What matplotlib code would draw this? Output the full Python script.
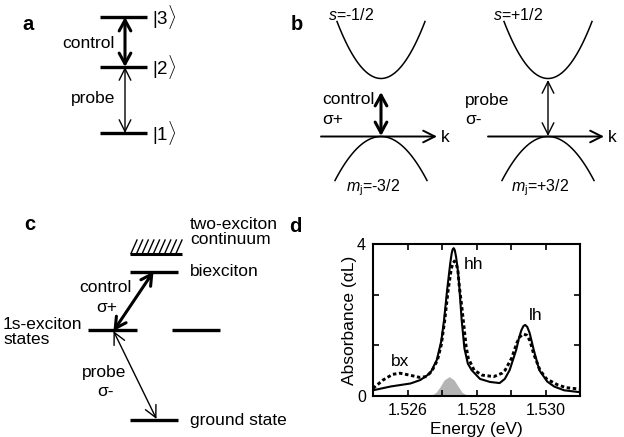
import numpy as np
import matplotlib.pyplot as plt

plt.rcParams['font.family'] = ['Liberation Sans', 'DejaVu Sans']
plt.rcParams['mathtext.fontset'] = 'custom'
plt.rcParams['mathtext.rm'] = 'Liberation Sans'
plt.rcParams['mathtext.it'] = 'Liberation Sans:italic'

# panel d: absorbance spectra
energy_solid = [1.52500, 1.52551, 1.52609, 1.52637, 1.52666, 1.52685, 1.52698, 1.52706,
                1.52715, 1.52724, 1.52728, 1.52731, 1.52734, 1.52737, 1.52741, 1.52746,
                1.52750, 1.52757, 1.52765, 1.52775, 1.52786, 1.52810, 1.52839, 1.52867,
                1.52882, 1.52896, 1.52915, 1.52923, 1.52930, 1.52936, 1.52941, 1.52947,
                1.52954, 1.52966, 1.52982, 1.53005, 1.53025, 1.53054, 1.53100]
absorb_solid = [0.15, 0.25, 0.33, 0.42, 0.60, 0.95, 1.45, 2.00,
                2.80, 3.50, 3.75, 3.86, 3.89, 3.84, 3.65, 3.30,
                2.90, 2.00, 1.25, 0.85, 0.68, 0.45, 0.37, 0.34,
                0.45, 0.68, 1.21, 1.52, 1.73, 1.84, 1.87, 1.82,
                1.66, 1.21, 0.68, 0.38, 0.25, 0.15, 0.10]
energy_dashed = [1.52500, 1.52529, 1.52557, 1.52578, 1.52606, 1.52635, 1.52655, 1.52672,
                 1.52687, 1.52698, 1.52708, 1.52718, 1.52727, 1.52731, 1.52736, 1.52741,
                 1.52746, 1.52750, 1.52758, 1.52764, 1.52770, 1.52776, 1.52793, 1.52816,
                 1.52850, 1.52874, 1.52883, 1.52902, 1.52917, 1.52926, 1.52936, 1.52946,
                 1.52955, 1.52966, 1.52984, 1.53003, 1.53036, 1.53060, 1.53100]
absorb_dashed = [0.20, 0.42, 0.57, 0.60, 0.55, 0.49, 0.51, 0.68,
                 0.95, 1.35, 2.00, 2.80, 3.35, 3.48, 3.55, 3.50,
                 3.30, 2.90, 2.30, 1.80, 1.30, 1.00, 0.68, 0.55,
                 0.51, 0.60, 0.68, 1.00, 1.40, 1.56, 1.63, 1.60,
                 1.45, 1.10, 0.68, 0.45, 0.29, 0.22, 0.18]
energy_pulse = [1.52660, 1.52672, 1.52683, 1.52695, 1.52706, 1.52721,
                1.52735, 1.52747, 1.52758, 1.52770, 1.52781]
absorb_pulse = [0.00, 0.03, 0.10, 0.25, 0.42, 0.51, 0.42, 0.25, 0.10, 0.03, 0.00]

energy_ticks = [1.526, 1.527, 1.528, 1.529, 1.530]
energy_ticklabels = ['1.526', '', '1.528', '', '1.530']
absorb_ticks = [0, 4 / 3, 8 / 3, 4]
absorb_ticklabels = ['0', '', '', '4']
peak_names = ['bx', 'hh', 'lh']
peak_energy = [1.52578, 1.52791, 1.52971]
peak_absorb = [0.90, 3.45, 2.13]

# schematic panels, positions in pixels of the 624x437 figure
kets_a = [r'$|3\rangle$', r'$|2\rangle$', r'$|1\rangle$']
levels_a = [17, 67, 133]
levels_c = ['two-exciton\ncontinuum', 'biexciton', 'ground state']

fig = plt.figure(figsize=(6.24, 4.37), dpi=100)
ax0 = fig.add_axes([0, 0, 1, 1])
ax0.set_xlim(0, 624)
ax0.set_ylim(437, 0)
ax0.axis('off')

fs = 12.5
thick = dict(arrowstyle='<->,head_length=0.55,head_width=0.3', lw=2.2, color='black',
             shrinkA=0, shrinkB=0, mutation_scale=14)
thin = dict(arrowstyle='<->,head_length=0.6,head_width=0.3', lw=1.0, color='black',
            shrinkA=0, shrinkB=0, mutation_scale=14)
axis_arrow = dict(arrowstyle='->,head_length=0.6,head_width=0.3', lw=1.4, color='black',
                  shrinkA=0, shrinkB=0, mutation_scale=14)

# ---- panel a
ax0.text(28, 25, 'a', fontsize=14.5, fontweight='bold', ha='center', va='center')
for y, ket in zip(levels_a, kets_a):
    ax0.plot([100, 147], [y, y], color='black', lw=2.4, solid_capstyle='butt')
    ax0.text(152, y, ket, fontsize=13.5, ha='left', va='center')
ax0.annotate('', xy=(125, levels_a[0]), xytext=(125, levels_a[1]), arrowprops=thick)
ax0.annotate('', xy=(125, levels_a[1]), xytext=(125, levels_a[2]), arrowprops=thin)
ax0.text(115, 44, 'control', fontsize=fs, ha='right', va='center')
ax0.text(115, 98, 'probe', fontsize=fs, ha='right', va='center')

# ---- panel b
ax0.text(297, 25, 'b', fontsize=14.5, fontweight='bold', ha='center', va='center')
for xc, s_lab, m_lab, name, sig, arr in [
        (381, r'$s$=-1/2', r'$m_{\rm j}$=-3/2', 'control', r'σ+', thick),
        (548, r'$s$=+1/2', r'$m_{\rm j}$=+3/2', 'probe', r'σ-', thin)]:
    dx = np.linspace(-44, 44, 60)
    ax0.plot(xc + dx, 78.5 - 57 * (dx / 44) ** 2, color='black', lw=1.1)
    dv = np.linspace(-46, 46, 60)
    ax0.plot(xc + dv, 136.5 + 44 * (dv / 46) ** 2, color='black', lw=1.1)
    ax0.annotate('', xy=(xc + 56, 136.5), xytext=(xc - 60, 136.5), arrowprops=axis_arrow)
    ax0.text(xc + 60, 138, 'k', fontsize=fs, ha='left', va='center')
    ax0.text(xc - 30, 15, s_lab, fontsize=11.5, ha='center', va='center')
    ax0.text(xc - 8, 188, m_lab, fontsize=11.5, ha='center', va='center')
    top = 92 if name == 'control' else 80
    ax0.annotate('', xy=(xc, top), xytext=(xc, 136), arrowprops=arr)
    left = xc - 59 if name == 'control' else xc - 83
    ax0.text(left, 100, name, fontsize=fs, ha='left', va='center')
    ax0.text(left, 119, sig, fontsize=fs, ha='left', va='center')

# ---- panel c
ax0.text(30, 225, 'c', fontsize=14.5, fontweight='bold', ha='center', va='center')
ax0.text(295, 226, 'd', fontsize=14.5, fontweight='bold', ha='center', va='center')
ax0.plot([130, 182], [253.5, 253.5], color='black', lw=2.2, solid_capstyle='butt')
for xh in np.linspace(131, 176, 9):
    ax0.plot([xh, xh + 6], [253.5, 240], color='black', lw=1.0)
ax0.plot([130, 178], [272, 272], color='black', lw=2.4, solid_capstyle='butt')
ax0.plot([88, 137], [330, 330], color='black', lw=2.4, solid_capstyle='butt')
ax0.plot([172, 220], [330, 330], color='black', lw=2.4, solid_capstyle='butt')
ax0.plot([130, 178], [420, 420], color='black', lw=2.4, solid_capstyle='butt')
ax0.text(190, 232, levels_c[0], fontsize=fs, ha='left', va='center', linespacing=1.05)
ax0.text(190, 272, levels_c[1], fontsize=fs, ha='left', va='center')
ax0.text(190, 420, levels_c[2], fontsize=fs, ha='left', va='center')
ax0.text(3, 332, '1s-exciton\nstates', fontsize=fs, ha='left', va='center', linespacing=1.05)
ax0.annotate('', xy=(153.5, 271.5), xytext=(113.5, 331), arrowprops=thick)
ax0.annotate('', xy=(156.5, 419), xytext=(113.5, 331), arrowprops=thin)
ax0.text(105, 288, 'control', fontsize=fs, ha='center', va='center')
ax0.text(107, 307, 'σ+', fontsize=fs, ha='center', va='center')
ax0.text(104, 372, 'probe', fontsize=fs, ha='center', va='center')
ax0.text(106, 392, 'σ-', fontsize=fs, ha='center', va='center')

# ---- panel d
ax = fig.add_axes([373 / 624, 1 - 396 / 437, 207 / 624, 152 / 437])
ax.fill_between(energy_pulse, absorb_pulse, color='#b4b4b4', lw=0)
ax.plot(energy_solid, absorb_solid, color='black', lw=1.5)
ax.plot(energy_dashed, absorb_dashed, color='black', lw=2.1, ls=(0, (1.2, 0.9)))
for name, e, a in zip(peak_names, peak_energy, peak_absorb):
    ax.text(e, a, name, fontsize=fs, ha='center', va='center')
ax.set_xlim(1.525, 1.531)
ax.set_ylim(0, 4)
ax.set_xticks(energy_ticks)
ax.set_xticklabels(energy_ticklabels)
ax.set_yticks(absorb_ticks)
ax.set_yticklabels(absorb_ticklabels)
ax.tick_params(direction='in', top=True, right=True, length=4, width=1.2, labelsize=11.5, pad=5)
for sp in ax.spines.values():
    sp.set_linewidth(1.5)
ax.set_xlabel('Energy (eV)', fontsize=fs, labelpad=3)
ax.set_ylabel('Absorbance (αL)', fontsize=fs, labelpad=0)

fig.savefig('out.png', dpi=100)
